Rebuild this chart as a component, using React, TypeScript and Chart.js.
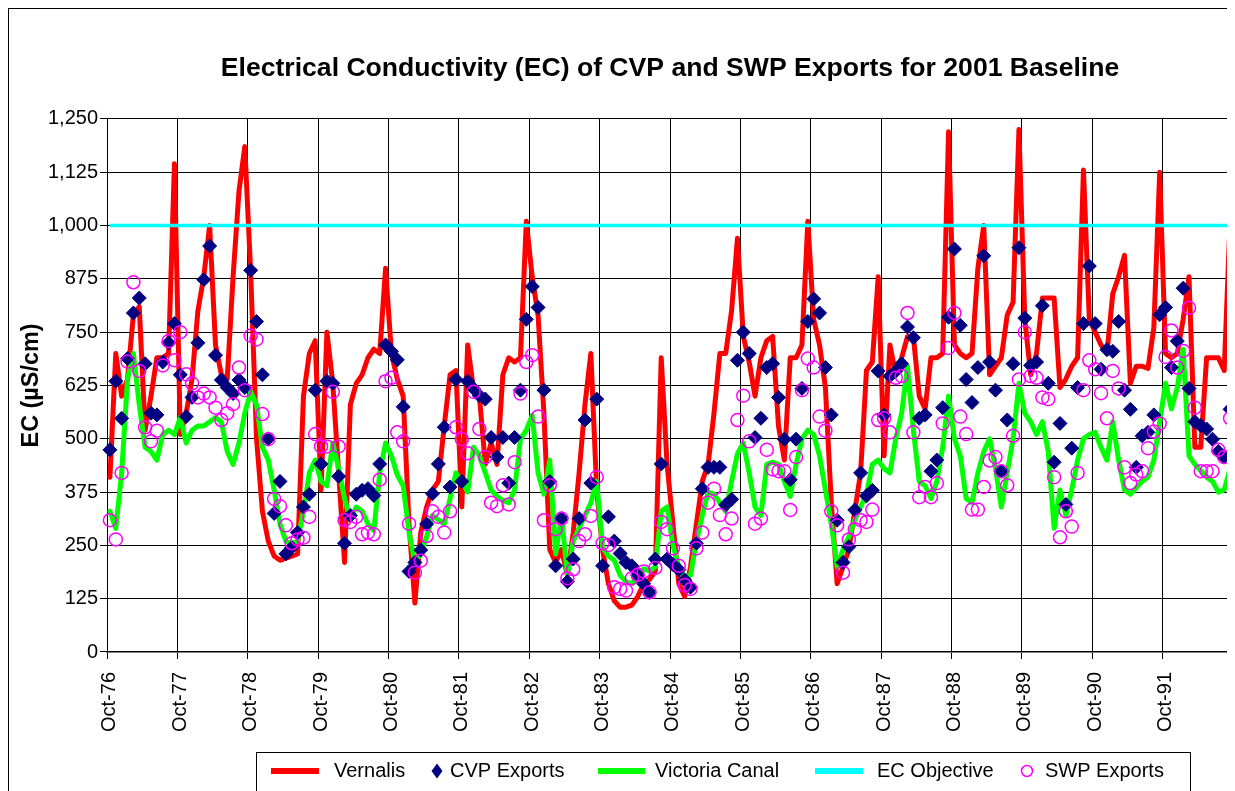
import React, { useEffect, useRef } from 'react';
import { Chart, registerables } from 'chart.js';

Chart.register(...registerables);

const FONT = "'Liberation Sans', Arial, Helvetica, sans-serif";

// Water years (Oct of start year through Sep of next year)
const WATER_YEARS = [76, 77, 78, 79, 80, 81, 82, 83, 84, 85, 86, 87, 88, 89, 90, 91];
const MONTHS = ['Oct', 'Nov', 'Dec', 'Jan', 'Feb', 'Mar', 'Apr', 'May', 'Jun', 'Jul', 'Aug', 'Sep'];
const CATEGORIES: string[] = [];
WATER_YEARS.forEach((y) => {
  MONTHS.forEach((m, k) => {
    const yr = k < 3 ? y : y + 1;
    CATEGORIES.push(`${m}-${String(yr % 100).padStart(2, '0')}`);
  });
});

const Y_TICKS = [0, 125, 250, 375, 500, 625, 750, 875, 1000, 1125, 1250];

const VERNALIS = [
  410, 700, 600, 640, 790, 810, 520, 600, 690, 690, 700, 1145,
  510, 560, 640, 800, 880, 1000, 720, 650, 640, 880, 1080, 1185,
  890, 500, 330, 260, 225, 215, 220, 225, 230, 600, 700, 730,
  380, 750, 630, 420, 210, 580, 630, 650, 690, 710, 700, 900,
  700, 640, 600, 300, 115, 280, 340, 380, 400, 530, 650, 660,
  340, 720, 615, 600, 440, 490, 440, 650, 690, 680, 690, 1010,
  880, 790, 560, 240, 210, 240, 180, 280, 420, 580, 700, 380,
  240, 160, 120, 105, 105, 110, 130, 160, 170, 190, 690, 440,
  300, 160, 130, 200, 300, 400, 440, 560, 700, 700, 800, 970,
  740, 680, 600, 690, 730, 740, 530, 450, 690, 690, 720, 1010,
  780, 720, 620, 350, 160, 200, 240, 330, 420, 660, 680, 880,
  460, 720, 650, 690, 740, 740, 600, 570, 690, 690, 700, 1220,
  720, 700, 690, 700, 900, 1000, 650, 670, 690, 790, 820, 1225,
  780, 650, 700, 830, 830, 830, 620, 640, 670, 690, 1130, 780,
  750, 720, 700, 840, 880, 930, 630, 670, 670, 665, 760, 1125,
  700, 690, 700, 780, 880, 480, 480, 690, 690, 690, 660, 1010,
];

const CVP_EXPORTS = [
  474, 635, 548, 688, 795, 830, 676, 560, 556, 680, 725, 770,
  650, 552, 597, 725, 873, 952, 696, 638, 620, 606, 638, 620,
  895, 775, 650, 500, 325, 400, 230, 245, 280, 340, 370, 614,
  441, 635, 630, 412, 255, 320, 370, 379, 383, 367, 441, 720,
  705, 685, 575, 189, 210, 239, 300, 371, 441, 527, 387, 639,
  400, 635, 618, 601, 593, 503, 457, 503, 396, 503, 614, 780,
  857, 808, 614, 400, 202, 313, 165, 218, 313, 544, 396, 593,
  202, 317, 260, 231, 210, 202, 180, 160, 140, 218, 441, 218,
  205, 193, 169, 152, 255, 383, 433, 433, 433, 345, 358, 684,
  750, 700, 503, 548, 667, 676, 597, 499, 404, 499, 618, 775,
  828, 795, 667, 556, 309, 210, 247, 333, 420, 366, 379, 659,
  556, 647, 659, 676, 762, 737, 548, 556, 424, 450, 573, 785,
  945, 766, 639, 585, 667, 929, 680, 614, 424, 544, 676, 948,
  783, 672, 680, 812, 630, 445, 536, 346, 478, 620, 770, 905,
  770, 663, 709, 705, 775, 614, 569, 433, 507, 515, 556, 791,
  808, 667, 729, 853, 618, 540, 531, 523, 499, 470, 457, 569,
];

const VICTORIA_CANAL = [
  330, 290, 420, 640, 700, 580, 480, 470, 450, 510, 520, 510,
  550, 490, 520, 530, 530, 540, 550, 540, 470, 440, 490, 560,
  610, 580, 480, 450, 380, 300, 260, 255, 260, 330, 420, 450,
  400, 390, 490, 430, 360, 310, 340, 330, 300, 285, 420, 490,
  460, 415, 390, 280, 210, 230, 270, 320, 310, 300, 360, 420,
  400, 375, 480, 460, 420, 380, 365, 355, 350, 380, 500, 520,
  555, 420, 370, 450, 230, 320, 180, 260, 290, 320, 350, 400,
  245, 225, 215, 180, 165, 160, 180, 195, 190, 200, 330, 340,
  250, 200, 175, 180, 260, 320, 375, 370, 350, 330, 400, 465,
  490, 420, 340, 320, 440, 445, 440, 400, 365, 440, 500, 520,
  510, 460, 380, 300, 200, 240, 270, 310, 340, 370, 440, 450,
  430, 420, 500, 560, 670, 520, 400, 390, 360, 400, 480, 600,
  500, 460, 360, 350, 420, 470, 500, 430, 340, 420, 500, 630,
  560, 540, 510, 540, 470, 290, 380, 320, 380, 450, 500, 510,
  515, 480, 450, 540, 450, 380, 370, 385, 400, 410, 450, 540,
  630, 570, 620, 710, 460, 440, 425, 410, 400, 375, 380, 430,
];

const EC_OBJECTIVE_VALUE = 1000;
const EC_OBJECTIVE = CATEGORIES.map(() => EC_OBJECTIVE_VALUE);

const SWP_EXPORTS = [
  309, 264, 420, 681, 867, 659, 527, 494, 519, 672, 729, 684,
  750, 651, 630, 597, 606, 597, 573, 544, 560, 581, 667, 614,
  742, 733, 558, 499, 359, 342, 297, 255, 264, 268, 317, 511,
  482, 482, 610, 482, 309, 305, 317, 276, 280, 276, 404, 635,
  643, 515, 494, 301, 186, 214, 272, 330, 317, 280, 330, 527,
  499, 466, 610, 523, 457, 350, 342, 391, 346, 445, 606, 680,
  696, 552, 309, 391, 288, 313, 173, 194, 260, 276, 319, 410,
  255, 251, 152, 148, 144, 173, 181, 189, 140, 197, 305, 288,
  243, 202, 157, 148, 243, 280, 350, 383, 321, 276, 313, 544,
  601, 494, 301, 313, 474, 428, 424, 424, 333, 457, 614, 688,
  667, 552, 519, 330, 297, 186, 264, 288, 309, 305, 334, 544,
  548, 515, 643, 647, 795, 515, 363, 387, 363, 396, 536, 713,
  795, 552, 511, 334, 334, 387, 449, 457, 424, 391, 507, 639,
  750, 647, 643, 597, 593, 410, 269, 330, 294, 420, 614, 684,
  663, 607, 548, 659, 618, 433, 396, 416, 424, 478, 517, 536,
  692, 754, 667, 706, 807, 573, 424, 424, 424, 474, 457, 548,
];

const TITLE = 'Electrical Conductivity (EC) of CVP and SWP Exports for 2001 Baseline';
const Y_TITLE = 'EC (\u00B5S/cm)';

const RED = '#FF0000';
const NAVY = '#000080';
const LIME = '#00FF00';
const CYAN = '#00FFFF';
const MAGENTA = '#FF00FF';

const fmt = (v: number) => String(v).replace(/\B(?=(\d{3})+(?!\d))/g, ',');

// Right-hand frame line of the plot area (the closing year boundary)
const plotFrame = {
  id: 'plotFrame',
  beforeDatasetsDraw(chart: any) {
    const { ctx, chartArea } = chart;
    const x = Math.round(chartArea.right) - 0.5;
    ctx.save();
    ctx.strokeStyle = '#000';
    ctx.lineWidth = 1;
    ctx.beginPath();
    ctx.moveTo(x, chartArea.top);
    ctx.lineTo(x, chartArea.bottom + 7);
    ctx.stroke();
    ctx.restore();
  },
};

// Excel-style boxed legend drawn below the plot
const boxedLegend = {
  id: 'boxedLegend',
  afterDraw(chart: any) {
    const ctx: CanvasRenderingContext2D = chart.ctx;
    const ds = chart.data.datasets;
    const left = 247;
    const top = 743;
    const cy = top + 19;
    ctx.save();
    ctx.strokeStyle = '#000';
    ctx.lineWidth = 1;
    ctx.strokeRect(left + 0.5, top + 0.5, 934, 80);
    ctx.font = `20px ${FONT}`;
    ctx.fillStyle = '#000';
    ctx.textBaseline = 'middle';
    ctx.textAlign = 'left';

    const drawLine = (x0: number, x1: number, color: string, w: number) => {
      ctx.save();
      ctx.strokeStyle = color;
      ctx.lineWidth = w;
      ctx.beginPath();
      ctx.moveTo(x0, cy);
      ctx.lineTo(x1, cy);
      ctx.stroke();
      ctx.restore();
    };
    // Vernalis
    drawLine(left + 15, left + 63, ds[0].borderColor, 6);
    ctx.fillText(ds[0].label, left + 78, cy);
    // CVP
    ctx.save();
    ctx.fillStyle = ds[1].pointBackgroundColor;
    ctx.beginPath();
    const dx = left + 181;
    ctx.moveTo(dx, cy - 7.5);
    ctx.lineTo(dx + 5.5, cy);
    ctx.lineTo(dx, cy + 7.5);
    ctx.lineTo(dx - 5.5, cy);
    ctx.closePath();
    ctx.fill();
    ctx.restore();
    ctx.fillText(ds[1].label, left + 194, cy);
    // Victoria
    drawLine(left + 342, left + 389, ds[2].borderColor, 6);
    ctx.fillText(ds[2].label, left + 399, cy);
    // EC objective
    drawLine(left + 559, left + 607, ds[3].borderColor, 6);
    ctx.fillText(ds[3].label, left + 621, cy);
    // SWP
    ctx.save();
    ctx.strokeStyle = ds[4].pointBorderColor;
    ctx.lineWidth = 1.5;
    ctx.beginPath();
    ctx.arc(left + 771, cy, 5.5, 0, Math.PI * 2);
    ctx.stroke();
    ctx.restore();
    ctx.fillText(ds[4].label, left + 789, cy);
    ctx.restore();
  },
};

const yearGridColor = (c: any) =>
  c.index === undefined || c.index % 12 === 0 ? '#000' : 'rgba(0,0,0,0)';

export default function App() {
  const canvasRef = useRef<HTMLCanvasElement | null>(null);

  useEffect(() => {
    document.body.style.overflow = 'hidden';
    document.documentElement.style.overflow = 'hidden';
    const canvas = canvasRef.current;
    if (!canvas) return;
    const chart = new Chart(canvas, {
      type: 'line',
      data: {
        labels: CATEGORIES,
        datasets: [
          {
            label: 'Vernalis',
            data: VERNALIS,
            borderColor: RED,
            backgroundColor: RED,
            borderWidth: 5,
            pointRadius: 0,
            tension: 0,
            borderJoinStyle: 'round',
            borderCapStyle: 'round',
            order: 4,
          },
          {
            label: 'CVP Exports',
            data: CVP_EXPORTS,
            showLine: false,
            pointStyle: 'rectRot',
            pointRadius: 7,
            pointBackgroundColor: NAVY,
            pointBorderColor: NAVY,
            pointBorderWidth: 1,
            borderColor: NAVY,
            backgroundColor: NAVY,
            order: 1,
          },
          {
            label: 'Victoria Canal',
            data: VICTORIA_CANAL,
            borderColor: LIME,
            backgroundColor: LIME,
            borderWidth: 5,
            pointRadius: 0,
            tension: 0,
            borderJoinStyle: 'round',
            borderCapStyle: 'round',
            order: 3,
          },
          {
            label: 'EC Objective',
            data: EC_OBJECTIVE,
            borderColor: CYAN,
            backgroundColor: CYAN,
            borderWidth: 3.5,
            pointRadius: 0,
            tension: 0,
            order: 2,
          },
          {
            label: 'SWP Exports',
            data: SWP_EXPORTS,
            showLine: false,
            pointStyle: 'circle',
            pointRadius: 6.5,
            pointBorderColor: MAGENTA,
            pointBackgroundColor: 'rgba(0,0,0,0)',
            pointBorderWidth: 1.5,
            borderColor: MAGENTA,
            backgroundColor: 'rgba(0,0,0,0)',
            order: 0,
          },
        ],
      } as any,
      options: {
        animation: false,
        responsive: true,
        maintainAspectRatio: false,
        events: [],
        layout: { padding: { top: 0, left: 0, right: 16, bottom: 57 } },
        plugins: {
          legend: { display: false },
          tooltip: { enabled: false },
          title: {
            display: true,
            text: TITLE,
            fullSize: false,
            color: '#000',
            font: { family: FONT, size: 26.6, weight: 'bold' },
            padding: { top: 44, bottom: 34 },
          },
        },
        scales: {
          x: {
            type: 'category',
            offset: true,
            grid: {
              offset: true,
              color: yearGridColor,
              lineWidth: 1,
              tickLength: 7,
            },
            border: { color: '#000', width: 1.5 },
            ticks: {
              autoSkip: false,
              maxRotation: 90,
              minRotation: 90,
              padding: 13,
              color: '#000',
              font: { family: FONT, size: 20 },
              callback: (_v: any, i: number) => (i % 12 === 0 ? CATEGORIES[i] : ''),
            },
            afterFit: (s: any) => {
              s.height = 100;
              s.paddingRight = 0;
              s.paddingLeft = 0;
            },
          },
          y: {
            min: Y_TICKS[0],
            max: Y_TICKS[Y_TICKS.length - 1],
            afterBuildTicks: (s: any) => {
              s.ticks = Y_TICKS.map((v) => ({ value: v }));
            },
            grid: { color: '#000', lineWidth: 1, tickLength: 7 },
            border: { color: '#000', width: 1 },
            ticks: {
              padding: 2,
              color: '#000',
              font: { family: FONT, size: 20 },
              callback: (v: any) => fmt(Number(v)),
            },
            title: {
              display: true,
              text: Y_TITLE,
              color: '#000',
              font: { family: FONT, size: 23.4, weight: 'bold' },
              padding: { top: 9, bottom: 0 },
            },
            afterFit: (s: any) => {
              s.width = 98;
            },
          },
        },
      } as any,
      plugins: [plotFrame, boxedLegend],
    });
    return () => chart.destroy();
  }, []);

  return (
    <div
      style={{
        width: 1240,
        height: 800,
        border: '1px solid #000',
        position: 'relative',
        background: '#fff',
      }}
    >
      <canvas ref={canvasRef} />
    </div>
  );
}
